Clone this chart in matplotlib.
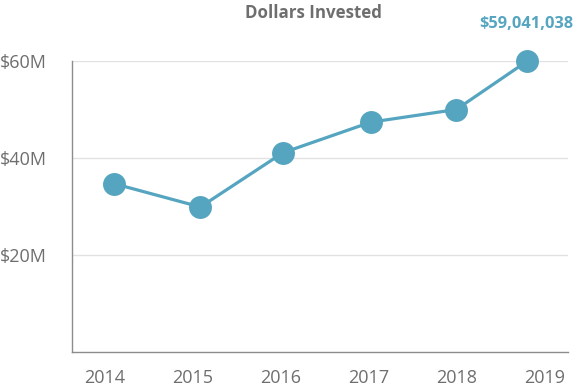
import matplotlib.pyplot as plt

# data (x = position in years, y = millions of dollars)
years = [2014, 2015, 2016, 2017, 2018, 2019]
point_x = [2014.11, 2015.09, 2016.03, 2017.03, 2018.0, 2018.8]
invested = [34.7, 29.9, 41.1, 47.4, 50.0, 59.9]
last_label = "$59,041,038"
y_ticks = [20, 40, 60]
y_labels = ["$20M", "$40M", "$60M"]

color = "#55a5c0"
gray = "#6e6e6e"

plt.rcParams["font.family"] = ["Open Sans", "DejaVu Sans"]

fig = plt.figure(figsize=(5.78, 3.9), dpi=100)
ax = fig.add_axes([72 / 578, 1 - 352 / 390, 496 / 578, 291 / 390])

ax.plot(point_x, invested, color=color, lw=2.3, marker="o", ms=16.5,
        markeredgewidth=0, clip_on=False, zorder=3)

ax.set_xlim(2013.63, 2019.27)
ax.set_ylim(0, 60)
ax.set_xticks(years)
ax.set_xticklabels([str(y) for y in years])
ax.set_yticks(y_ticks)
ax.set_yticklabels(y_labels)
ax.tick_params(length=0, labelsize=13, colors=gray)
ax.tick_params(axis="x", pad=12)
ax.tick_params(axis="y", pad=18)

ax.grid(axis="y", color="#e2e2e2", lw=1)
ax.set_axisbelow(True)
for s in ["top", "right"]:
    ax.spines[s].set_visible(False)
for s in ["left", "bottom"]:
    ax.spines[s].set_color("#8c8c8c")
    ax.spines[s].set_linewidth(1)

ax.annotate(last_label, (point_x[-1], invested[-1]), xytext=(0, 21),
            textcoords="offset points", ha="center", va="bottom",
            color=color, fontsize=11.8, fontweight="bold", annotation_clip=False)

fig.text(313 / 578, 1 - 13 / 390, "Dollars Invested", ha="center", va="center",
         color=gray, fontsize=12.2, fontweight="bold")

fig.savefig("out.png", dpi=100)
